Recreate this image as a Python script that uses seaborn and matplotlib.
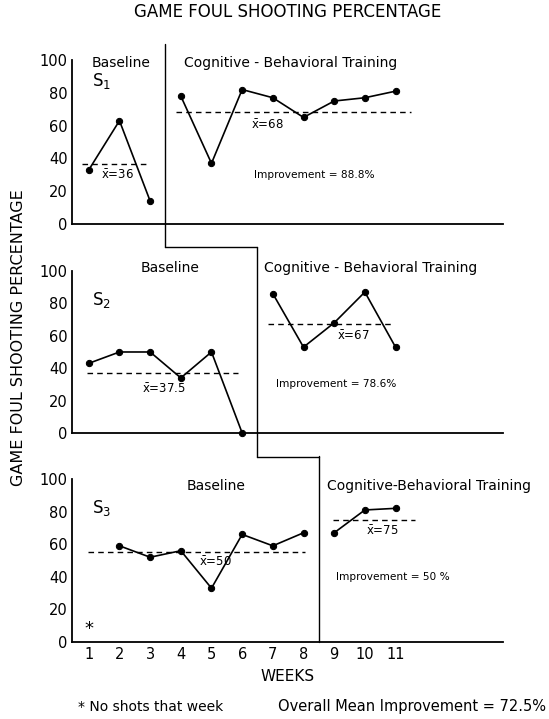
import matplotlib
matplotlib.use("Agg")
import matplotlib.pyplot as plt
import seaborn as sns
import pandas as pd

# game foul shooting percentage per week, per subject and phase
s1_base_weeks = [1, 2, 3]
s1_base_pct = [33, 63, 14]
s1_train_weeks = [4, 5, 6, 7, 8, 9, 10, 11]
s1_train_pct = [78, 37, 82, 77, 65, 75, 77, 81]

s2_base_weeks = [1, 2, 3, 4, 5, 6]
s2_base_pct = [43, 50, 50, 34, 50, 0]
s2_train_weeks = [7, 8, 9, 10, 11]
s2_train_pct = [86, 53, 68, 87, 53]

s3_base_weeks = [2, 3, 4, 5, 6, 7, 8]
s3_base_pct = [59, 52, 56, 33, 66, 59, 67]
s3_train_weeks = [9, 10, 11]
s3_train_pct = [67, 81, 82]

# mean lines as drawn (level) and their printed labels
mean_levels = [(36.5, 68), (37, 67), (55, 75)]
mean_labels = [("36", "68"), ("37.5", "67"), ("50", "75")]
improvements = ["88.8%", "78.6%", "50 %"]
week_ticks = list(range(1, 12))


def main():
    sns.set_style("white")
    plt.rcParams["font.family"] = ["DejaVu Sans"]
    plt.rcParams["mathtext.fontset"] = "dejavusans"
    plt.rcParams["text.color"] = "black"
    plt.rcParams["axes.labelcolor"] = "black"

    rows = []
    subjects = [
        (s1_base_weeks, s1_base_pct, s1_train_weeks, s1_train_pct),
        (s2_base_weeks, s2_base_pct, s2_train_weeks, s2_train_pct),
        (s3_base_weeks, s3_base_pct, s3_train_weeks, s3_train_pct),
    ]
    for i, (bw, bp, tw, tp) in enumerate(subjects):
        for w, p in zip(bw, bp):
            rows.append({"subject": i, "phase": "base", "week": w, "pct": p})
        for w, p in zip(tw, tp):
            rows.append({"subject": i, "phase": "train", "week": w, "pct": p})
    df = pd.DataFrame(rows)

    fig = plt.figure(figsize=(5.49, 7.19), dpi=100)
    boxes = [
        [0.131, 0.6885, 0.785, 0.228],
        [0.131, 0.3978, 0.785, 0.2253],
        [0.131, 0.1071, 0.785, 0.2267],
    ]
    axes = [fig.add_axes(b) for b in boxes]

    # where the phase change falls for each subject
    changes = [(s[0][-1] + s[2][0]) / 2 for s in subjects]
    base_start = [0.77, 0.93, 0.97]
    base_end = [2.97, 5.85, 8.05]
    train_start = [3.83, 6.83, 8.95]
    train_end = [11.5, 10.9, 11.65]

    for i, ax in enumerate(axes):
        sub = df[df["subject"] == i]
        for phase in ["base", "train"]:
            d = sub[sub["phase"] == phase]
            sns.lineplot(data=d, x="week", y="pct", ax=ax, color="black",
                         marker="o", markersize=4.5, linewidth=1.2,
                         markeredgecolor="black", clip_on=False,
                         legend=False)
        ax.set_xlim(0.45, 14.5)
        ax.set_ylim(0, 100)
        ax.set_xlabel("")
        ax.set_ylabel("")
        sns.despine(ax=ax)
        for sp in ["left", "bottom"]:
            ax.spines[sp].set_linewidth(1.3)
            ax.spines[sp].set_color("black")
        ax.set_yticks([0, 20, 40, 60, 80, 100])
        ax.set_xticks(week_ticks)
        ax.tick_params(axis="both", direction="in", length=5, width=1,
                       colors="black", labelsize=10.5)
        ax.tick_params(axis="y", pad=3)
        if i < 2:
            ax.set_xticklabels([])
        ax.patch.set_alpha(0)

        lo_b, lo_t = mean_levels[i]
        ax.hlines(lo_b, base_start[i], base_end[i], colors="black",
                  linestyles=(0, (4, 3)), linewidth=1)
        ax.hlines(lo_t, train_start[i], train_end[i], colors="black",
                  linestyles=(0, (4, 3)), linewidth=1)

    # phase change line stepping down between panels
    lk = dict(color="black", linewidth=1, clip_on=False)
    axes[0].plot([changes[0], changes[0]], [110, -14], **lk)
    axes[0].plot([changes[0], changes[1]], [-14, -14], **lk)
    axes[1].plot([changes[1], changes[1]], [115, -15], **lk)
    axes[1].plot([changes[1], changes[2]], [-15, -15], **lk)
    axes[2].plot([changes[2], changes[2]], [114, 0], **lk)

    fs = 10
    xb = r"$\bar{\mathregular{x}}$"
    a1, a2, a3 = axes
    a1.text(1.1, 98, "Baseline", fontsize=fs, va="center")
    a1.text(1.1, 87, "S$_\\mathregular{1}$", fontsize=12, va="center")
    a1.text(4.1, 98, "Cognitive - Behavioral Training", fontsize=fs,
            va="center")
    a1.text(1.4, 30, xb + "=" + mean_labels[0][0], fontsize=8.5,
            va="center")
    a1.text(6.3, 60, xb + "=" + mean_labels[0][1], fontsize=8.5, va="center")
    a1.text(6.4, 30, "Improvement = " + improvements[0], fontsize=7.6,
            va="center")

    a2.text(2.7, 102, "Baseline", fontsize=fs, va="center")
    a2.text(1.1, 82, "S$_\\mathregular{2}$", fontsize=12, va="center")
    a2.text(6.7, 102, "Cognitive - Behavioral Training", fontsize=fs,
            va="center")
    a2.text(2.75, 27, xb + "=" + mean_labels[1][0], fontsize=8.5,
            va="center")
    a2.text(9.1, 60, xb + "=" + mean_labels[1][1], fontsize=8.5,
            va="center")
    a2.text(7.1, 30, "Improvement = " + improvements[1], fontsize=7.6,
            va="center")

    a3.text(4.2, 96, "Baseline", fontsize=fs, va="center")
    a3.text(1.1, 82, "S$_\\mathregular{3}$", fontsize=12, va="center")
    a3.text(8.75, 96, "Cognitive-Behavioral Training", fontsize=fs,
            va="center")
    a3.text(4.6, 49, xb + "=" + mean_labels[2][0], fontsize=8.5,
            va="center")
    a3.text(10.05, 68, xb + "=" + mean_labels[2][1], fontsize=8.5,
            va="center")
    a3.text(9.05, 40, "Improvement = " + improvements[2], fontsize=7.6,
            va="center")
    a3.text(1, 8, "*", fontsize=13, ha="center", va="center")
    a3.set_xlabel("WEEKS", fontsize=11, labelpad=5)

    fig.text(0.523, 0.983, "GAME FOUL SHOOTING PERCENTAGE", fontsize=12,
             ha="center", va="center")
    fig.text(0.034, 0.531, "GAME FOUL SHOOTING PERCENTAGE", fontsize=11.5,
             rotation=90, ha="center", va="center")
    fig.text(0.142, 0.007, "* No shots that week", fontsize=10,
             va="bottom")
    fig.text(0.506, 0.007, "Overall Mean Improvement = 72.5%",
             fontsize=10.5, va="bottom")

    plt.savefig("out.png", dpi=100)
    plt.close()


if __name__ == "__main__":
    main()
